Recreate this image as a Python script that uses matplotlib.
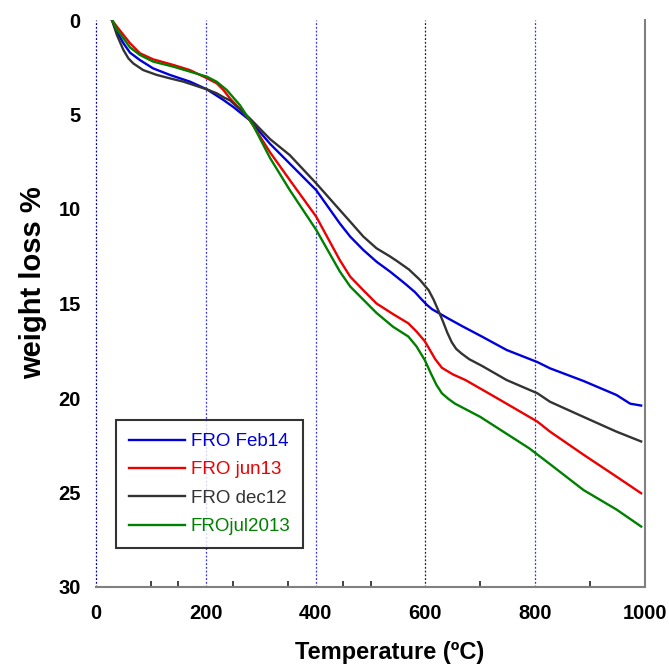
import matplotlib
matplotlib.use("Agg")
import matplotlib.pyplot as plt
from matplotlib.ticker import FixedLocator

plt.rcParams['font.family'] = ['Liberation Sans', 'DejaVu Sans']

# ---- data ----
feb14_T = [29, 38, 50, 62, 80, 104, 135, 171, 202, 232, 250, 280, 317, 353, 401, 444, 463, 487, 511,
           535, 548, 565, 581, 592, 603, 612, 642, 669, 703, 748, 804, 827, 888, 948, 973, 993]
feb14_W = [0, 0.62, 1.23, 1.73, 2.12, 2.56, 2.91, 3.26, 3.67, 4.23, 4.6, 5.3, 6.55, 7.6, 9.0, 10.76, 11.46, 12.17, 12.79,
           13.3, 13.6, 14.0, 14.4, 14.75, 15.08, 15.3, 15.8, 16.23, 16.75, 17.46, 18.1, 18.43, 19.1, 19.84, 20.3, 20.4]

jun13_T = [29, 38, 50, 62, 80, 104, 141, 171, 202, 220, 232, 244, 262, 280, 317, 353, 401, 444, 463, 487, 511,
           541, 569, 584, 599, 608, 618, 630, 650, 673, 730, 804, 827, 888, 948, 993]
jun13_W = [0, 0.35, 0.79, 1.23, 1.76, 2.08, 2.38, 2.65, 3.08, 3.35, 3.7, 4.15, 4.7, 5.3, 7.0, 8.47, 10.4, 12.7, 13.58, 14.3, 15.0,
           15.56, 16.05, 16.49, 17.0, 17.45, 17.95, 18.4, 18.75, 19.05, 20.0, 21.25, 21.78, 23.0, 24.16, 25.04]

dec12_T = [29, 38, 50, 59, 68, 86, 110, 135, 159, 183, 202, 220, 233, 244, 280, 317, 353, 401, 444, 463, 487, 511,
           535, 548, 570, 590, 606, 615, 624, 632, 640, 648, 656, 666, 680, 703, 748, 804, 827, 888, 948, 993]
dec12_W = [0, 0.79, 1.59, 2.03, 2.3, 2.65, 2.9, 3.09, 3.26, 3.49, 3.67, 3.88, 4.1, 4.25, 5.2, 6.3, 7.15, 8.64, 10.05, 10.67, 11.46, 12.08,
           12.5, 12.75, 13.2, 13.75, 14.3, 14.8, 15.4, 15.95, 16.55, 17.05, 17.4, 17.65, 17.95, 18.3, 19.05, 19.75, 20.2, 21.0, 21.78, 22.3]

jul2013_T = [29, 38, 50, 62, 80, 104, 141, 171, 202, 220, 238, 262, 286, 317, 353, 401, 444, 463, 487, 511,
             541, 569, 584, 599, 610, 620, 630, 642, 654, 700, 789, 827, 888, 948, 993]
jul2013_W = [0, 0.5, 0.97, 1.45, 1.85, 2.2, 2.47, 2.73, 3.0, 3.27, 3.7, 4.5, 5.56, 7.3, 9.0, 11.1, 13.3, 14.1, 14.8, 15.5,
             16.23, 16.75, 17.28, 18.0, 18.7, 19.3, 19.75, 20.05, 20.3, 21.0, 22.66, 23.5, 24.87, 25.9, 26.8]

series_labels = ['FRO Feb14', 'FRO jun13', 'FRO dec12', 'FROjul2013']
series_colors = ['#0000dd', '#ee0000', '#333333', '#008000']

x_tick_labels = [0, 200, 400, 600, 800, 1000]
y_tick_labels = [0, 5, 10, 15, 20, 25, 30]
x_tick_marks = [100, 150, 200, 250, 350, 400, 450, 500, 600, 700, 800, 900]
y_tick_marks = [0, 5, 20, 25]
grid_x = [0, 200, 400, 600, 800]
grid_colors = ['#0000aa', '#3333ee', '#3333ee', '#222222', '#3333ee']

# ---- figure ----
fig = plt.figure(figsize=(6.69, 6.66), dpi=100)
ax = fig.add_axes([96/669, 1-587/666, (645-96)/669, (587-20)/666])

for xg, cg in zip(grid_x, grid_colors):
    ax.axvline(xg, color=cg, lw=0.9, ls=(0, (1.5, 1.5)), zorder=1, clip_on=False)

data = [(feb14_T, feb14_W), (jun13_T, jun13_W), (dec12_T, dec12_W), (jul2013_T, jul2013_W)]
for (T, W), lab, col in zip(data, series_labels, series_colors):
    ax.plot(T, W, color=col, lw=1.7, label=lab, zorder=3, solid_joinstyle='round')

ax.set_xlim(0, 1000)
ax.set_ylim(30, 0)

ax.xaxis.set_major_locator(FixedLocator(x_tick_labels))
ax.yaxis.set_major_locator(FixedLocator(y_tick_labels))
ax.xaxis.set_minor_locator(FixedLocator(x_tick_marks))
ax.yaxis.set_minor_locator(FixedLocator(y_tick_marks))
ax.tick_params(axis='both', which='major', length=0, labelsize=14.5)
ax.tick_params(axis='x', which='major', pad=12.5)
ax.tick_params(axis='y', which='major', pad=11)
ax.tick_params(axis='x', which='minor', direction='in', length=4, width=1.2, color='#222222', bottom=True, top=False)
ax.tick_params(axis='y', which='minor', direction='in', length=7, width=1.2, color='#222222', left=True, right=True)
for lbl in ax.get_xticklabels() + ax.get_yticklabels():
    lbl.set_fontweight('bold')

ax.spines['top'].set_visible(False)
ax.spines['left'].set_visible(False)
for s in ['bottom', 'right']:
    ax.spines[s].set_color('#808080')
    ax.spines[s].set_linewidth(1.5)

ax.set_xlabel('Temperature (ºC)', fontsize=17, fontweight='bold', labelpad=12.5, x=0.535)
ax.set_ylabel('weight loss %', fontsize=21, fontweight='bold', labelpad=8, y=0.536)

leg = ax.legend(loc='lower left', bbox_to_anchor=((116-96)/549, (587-548)/567),
                fontsize=13.5, frameon=True, fancybox=False, borderpad=0.68,
                handlelength=3.0, handletextpad=0.3, labelspacing=0.6, borderaxespad=0)
leg.get_frame().set_edgecolor('black')
leg.get_frame().set_linewidth(1.5)
for txt, col in zip(leg.get_texts(), series_colors):
    txt.set_color(col)

fig.savefig('out.png', dpi=100)
